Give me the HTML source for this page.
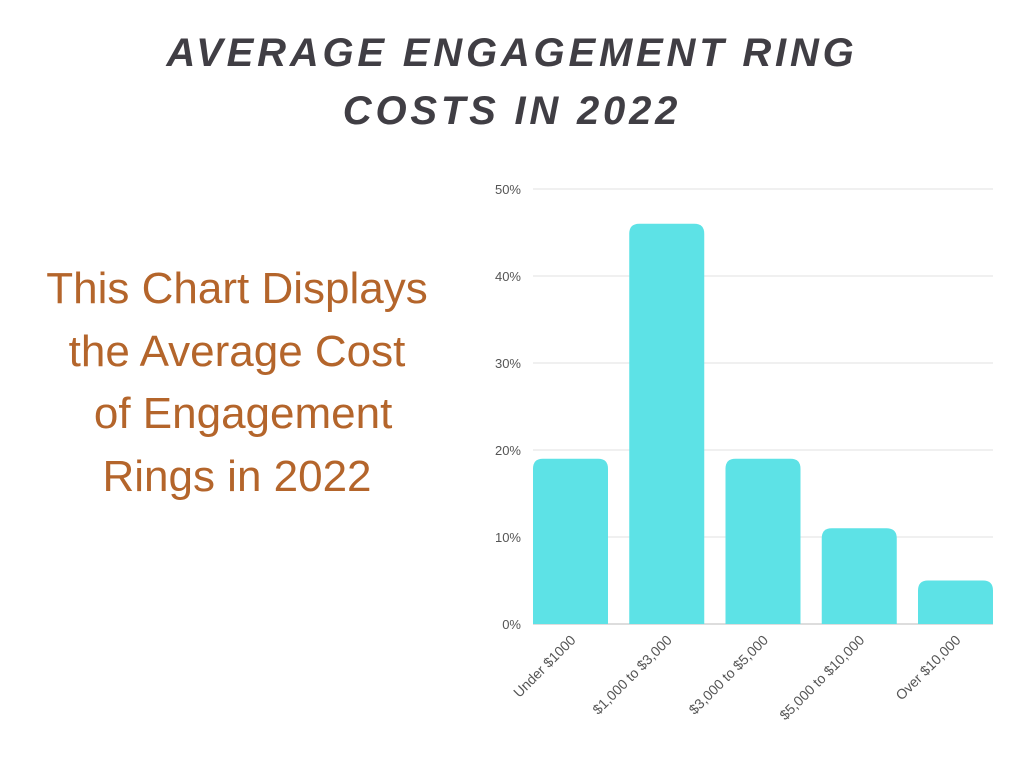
<!DOCTYPE html>
<html><head><meta charset="utf-8"><style>
body{margin:0;width:1024px;height:768px;background:#fff;overflow:hidden;position:relative;font-family:"Liberation Sans",sans-serif}
#title{position:absolute;left:0;width:1024px;top:24px;text-align:center;font-size:40px;font-weight:bold;font-style:italic;letter-spacing:3.8px;color:#403e44;line-height:58px}
#desc{position:absolute;left:17px;width:440px;top:258px;text-align:center;font-size:44px;color:#b4652b;line-height:62.5px}
</style></head><body>
<div id="title">AVERAGE ENGAGEMENT RING<br>COSTS IN 2022</div>
<div id="desc">This Chart Displays<br>the Average Cost<br>&nbsp;of Engagement<br>Rings in 2022</div>
<svg id="chart" width="1024" height="768" style="position:absolute;left:0;top:0"></svg>
<script>
const categories=["Under $1000","$1,000 to $3,000","$3,000 to $5,000","$5,000 to $10,000","Over $10,000"];
const values=[19,46,19,11,5];
const ticks=[0,10,20,30,40,50];
const tickLabels=["0%","10%","20%","30%","40%","50%"];
const svg=document.getElementById('chart');
const NS='http://www.w3.org/2000/svg';
const x0=533,x1=993,y0=624,y1=189,ymax=50;
const y=v=>y0-(v/ymax)*(y0-y1);
const bw=75;
function mk(t,a){const e=document.createElementNS(NS,t);for(const k in a)e.setAttribute(k,a[k]);svg.appendChild(e);return e;}
ticks.forEach((t,i)=>{
  const l=mk('line',{x1:x0,x2:x1,y1:y(t),y2:y(t),stroke:t===0?'#bbb':'#e2e2e2','stroke-width':1});
  
  
  const tx=mk('text',{x:521,y:y(t)+5,'text-anchor':'end','font-size':13,fill:'#555','font-family':'Liberation Sans, sans-serif'});
  tx.textContent=tickLabels[i];
  
  
});
const step=(x1-x0-bw)/(categories.length-1);
values.forEach((v,i)=>{
  const left=x0+i*step, top=y(v), r=10;
  const d=`M${left},${y0} V${top+r} Q${left},${top} ${left+r},${top} H${left+bw-r} Q${left+bw},${top} ${left+bw},${top+r} V${y0} Z`;
  const p=mk('path',{d:d,fill:'#5de2e6'});
  
  
  const cx=left+bw/2+6, cy=y0+17;
  const t=mk('text',{x:cx,y:cy,'text-anchor':'end','font-size':14,fill:'#555','font-family':'Liberation Sans, sans-serif',transform:`rotate(-45 ${cx} ${cy})`});
  t.textContent=categories[i];
  
  
});
</script>
</body></html>
